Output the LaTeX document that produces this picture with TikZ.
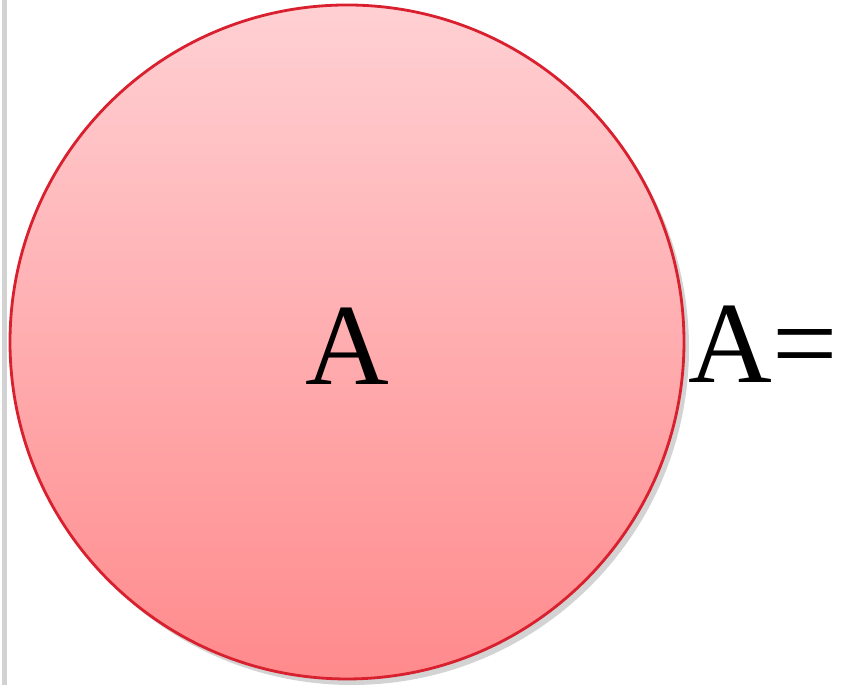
\documentclass[tikz,border=0pt]{standalone}
\usepackage{fontspec}
\setmainfont{Liberation Serif}
\usetikzlibrary{shadows}
\definecolor{rim}{HTML}{D8202E}
\definecolor{pinktop}{HTML}{FFD0D3}
\definecolor{pinkbot}{HTML}{FF8A8C}
\definecolor{edge}{HTML}{D2D2D2}
\tikzset{
  setdisc/.style={circle,draw=rim,line width=0.8pt,top color=pinktop,bottom color=pinkbot,
    minimum size=6.74cm,inner sep=0pt,
    drop shadow={shadow xshift=0.05cm,shadow yshift=-0.06cm,opacity=0.35}},
  bigtext/.style={font=\fontsize{33}{36}\selectfont,inner sep=0pt}
}

\begin{document}
\begin{tikzpicture}
\useasboundingbox (0,0) rectangle (8.42,6.85);
\draw[edge,line width=1.5pt] (0.045,0)--(0.045,6.85);
\node[setdisc] (setA) at (3.47,3.43) {};
\node[bigtext,anchor=base] (labA) at (3.47,3.00) {A};
\node[bigtext,anchor=base west] (eqA) at (6.88,3.02) {A=};
\end{tikzpicture}
\end{document}
